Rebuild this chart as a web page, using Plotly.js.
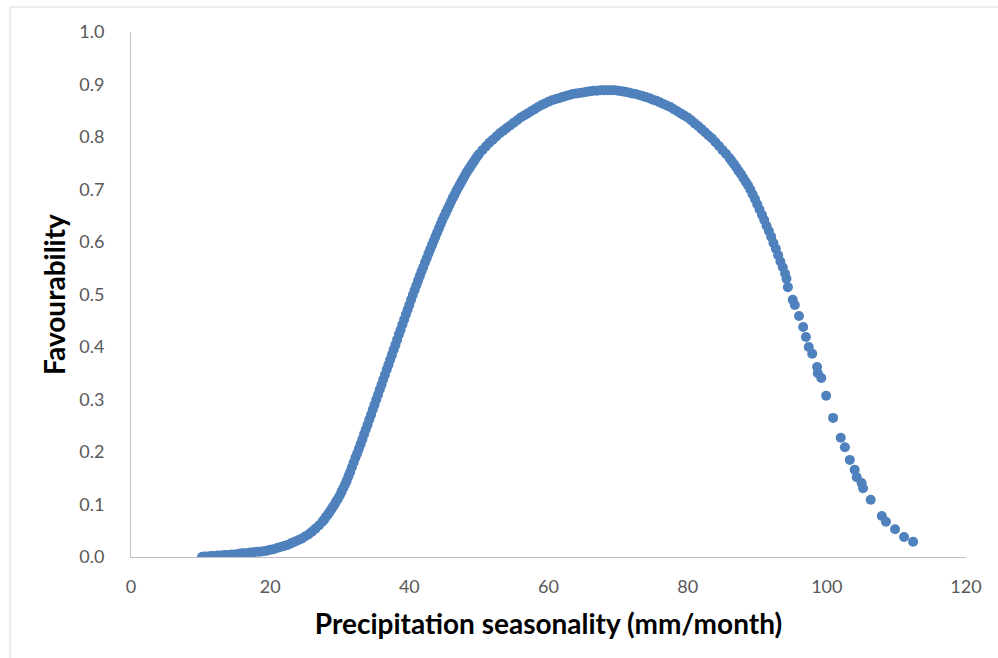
<!DOCTYPE html>
<html>
<head>
<meta charset="utf-8">
<script src="https://cdn.plot.ly/plotly-3.0.1.min.js"></script>
<style>
  html, body { margin: 0; padding: 0; background: #ffffff; }
  #chart { width: 998px; height: 658px; }
</style>
</head>
<body>
<div id="chart"></div>
<script>
// Precipitation seasonality (mm/month)
const seasonality = [
  10.2, 10.5, 11, 11.5, 12, 12.5, 13, 13.5, 14, 14.5, 15, 15.5, 16, 16.5, 17, 17.5, 18, 18.5, 19, 19.5,
  20, 20.5, 21, 21.5, 22, 22.5, 23, 23.5, 24, 24.5, 25, 25.5, 26, 26.5, 27, 27.5, 27.75,
  28, 28.25, 28.5, 28.75, 29, 29.25, 29.5, 29.75, 30, 30.25, 30.5, 30.75, 31, 31.25, 31.5, 31.75,
  32, 32.25, 32.5, 32.75, 33, 33.25, 33.5, 33.75, 34, 34.25, 34.5, 34.75, 35, 35.25, 35.5, 35.75,
  36, 36.25, 36.5, 36.75, 37, 37.25, 37.5, 37.75, 38, 38.25, 38.5, 38.75, 39, 39.25, 39.5, 39.75,
  40, 40.25, 40.5, 40.75, 41, 41.25, 41.5, 41.75, 42, 42.25, 42.5, 42.75, 43, 43.25, 43.5, 43.75,
  44, 44.25, 44.5, 44.75, 45, 45.25, 45.5, 45.75, 46, 46.25, 46.5, 46.75, 47, 47.25, 47.5, 47.75,
  48, 48.25, 48.5, 48.75, 49, 49.25, 49.5, 49.75, 50, 50.5, 51,
  51.5, 52, 52.5, 53, 53.5, 54, 54.5, 55, 55.5, 56, 56.5, 57, 57.5, 58, 58.5, 59, 59.5, 60, 60.5,
  61, 61.5, 62, 62.5, 63, 63.5, 64, 64.5, 65, 65.5, 66, 66.5, 67, 67.5, 68, 68.5, 69, 69.5, 70,
  70.5, 71, 71.5, 72, 72.5, 73, 73.5, 74, 74.5, 75, 75.5, 76, 76.5, 77, 77.5, 78, 78.5, 79, 79.5,
  80, 80.5, 81, 81.5, 82, 82.5, 83, 83.5, 84, 84.5, 85, 85.5, 86, 86.33, 86.67, 87, 87.33, 87.67,
  88, 88.33, 88.67, 89, 89.33, 89.67, 90, 90.33, 90.67, 91, 91.33, 91.67, 92, 92.33, 92.67, 93,
  93.33, 93.67, 94, 94.2, 94.4, 95.1, 95.4, 96.0, 96.6, 97.0, 97.4, 97.9, 98.6, 98.7, 99.2, 99.9,
  100.9, 102.0, 102.6, 103.3, 104.0, 104.3, 105.0, 105.2, 106.3, 107.9, 108.5, 109.8, 111.1, 112.4
];

// Favourability
const favourability = [
  0.000, 0.001, 0.001, 0.002, 0.002, 0.003, 0.003, 0.004, 0.004, 0.005, 0.005, 0.006, 0.007, 0.007, 0.008, 0.009, 0.010, 0.010, 0.011, 0.012,
  0.014, 0.015, 0.017, 0.019, 0.021, 0.023, 0.026, 0.029, 0.032, 0.035, 0.039, 0.043, 0.048, 0.054, 0.060, 0.067, 0.071,
  0.076, 0.080, 0.085, 0.090, 0.095, 0.100, 0.106, 0.111, 0.117, 0.124, 0.131, 0.138, 0.145, 0.154, 0.162, 0.171,
  0.180, 0.189, 0.197, 0.206, 0.215, 0.224, 0.234, 0.243, 0.252, 0.262, 0.271, 0.281, 0.290, 0.300, 0.309, 0.319,
  0.328, 0.338, 0.347, 0.357, 0.366, 0.376, 0.385, 0.395, 0.404, 0.414, 0.424, 0.433, 0.443, 0.452, 0.462, 0.471,
  0.480, 0.490, 0.499, 0.508, 0.517, 0.526, 0.535, 0.544, 0.552, 0.561, 0.569, 0.578, 0.586, 0.594, 0.602, 0.610,
  0.618, 0.626, 0.634, 0.642, 0.649, 0.656, 0.663, 0.670, 0.677, 0.684, 0.690, 0.697, 0.703, 0.709, 0.715, 0.721,
  0.727, 0.733, 0.738, 0.743, 0.748, 0.753, 0.758, 0.763, 0.767, 0.775, 0.782,
  0.789, 0.795, 0.801, 0.807, 0.812, 0.817, 0.822, 0.827, 0.832, 0.837, 0.841, 0.845, 0.849, 0.853, 0.857, 0.861, 0.864, 0.867, 0.870,
  0.872, 0.874, 0.876, 0.878, 0.880, 0.882, 0.883, 0.884, 0.885, 0.886, 0.887, 0.888, 0.888, 0.889, 0.889, 0.889, 0.889, 0.889, 0.888,
  0.887, 0.886, 0.885, 0.883, 0.882, 0.880, 0.878, 0.876, 0.874, 0.871, 0.869, 0.866, 0.863, 0.860, 0.857, 0.853, 0.849, 0.845, 0.841,
  0.837, 0.832, 0.826, 0.821, 0.815, 0.809, 0.803, 0.797, 0.790, 0.783, 0.775, 0.768, 0.760, 0.754, 0.748, 0.742, 0.735, 0.729,
  0.722, 0.715, 0.708, 0.700, 0.691, 0.682, 0.672, 0.662, 0.652, 0.642, 0.631, 0.621, 0.610, 0.598, 0.587, 0.575,
  0.563, 0.552, 0.540, 0.530, 0.514, 0.490, 0.480, 0.459, 0.438, 0.419, 0.400, 0.387, 0.362, 0.350, 0.341, 0.307,
  0.265, 0.227, 0.209, 0.185, 0.166, 0.152, 0.141, 0.131, 0.109, 0.078, 0.067, 0.053, 0.038, 0.029
];

const xTickVals = [0, 20, 40, 60, 80, 100, 120];
const yTickVals = [0, 0.1, 0.2, 0.3, 0.4, 0.5, 0.6, 0.7, 0.8, 0.9, 1.0];
const yTickText = ['0.0', '0.1', '0.2', '0.3', '0.4', '0.5', '0.6', '0.7', '0.8', '0.9', '1.0'];

const trace = {
  x: seasonality,
  y: favourability,
  type: 'scatter',
  mode: 'markers',
  marker: { color: '#4f81bd', size: 10, line: { width: 0 } },
  hoverinfo: 'x+y'
};

const layout = {
  width: 998,
  height: 658,
  margin: { l: 131, r: 32, t: 32, b: 101, pad: 0 },
  paper_bgcolor: '#ffffff',
  plot_bgcolor: '#ffffff',
  showlegend: false,
  font: { family: 'Lato, "Open Sans", sans-serif', color: '#595959' },
  xaxis: {
    range: [0, 120],
    tickvals: xTickVals,
    ticks: '',
    showgrid: false,
    zeroline: false,
    showline: true,
    linecolor: '#bfbfbf',
    linewidth: 1,
    tickfont: { size: 18, color: '#595959' },
    ticklabelstandoff: 13,
    title: { text: 'Precipitation seasonality (mm/month)', font: { size: 28, color: '#000000', family: 'Lato, sans-serif', weight: 'bold' }, standoff: 18 }
  },
  yaxis: {
    range: [0, 1],
    tickvals: yTickVals,
    ticktext: yTickText,
    ticks: '',
    showgrid: false,
    zeroline: false,
    showline: true,
    linecolor: '#bfbfbf',
    linewidth: 1,
    tickfont: { size: 18, color: '#595959' },
    ticklabelstandoff: 22,
    title: { text: 'Favourability', font: { size: 28, color: '#000000', family: 'Lato, sans-serif', weight: 'bold' }, standoff: 5 }
  },
  shapes: [
    { type: 'line', xref: 'paper', yref: 'paper', x0: -0.1449, x1: 1.04, y0: 1.0476, y1: 1.0476, line: { color: '#d9d9d9', width: 1 } },
    { type: 'line', xref: 'paper', yref: 'paper', x0: -0.1449, x1: -0.1449, y0: 1.0476, y1: -0.2, line: { color: '#d9d9d9', width: 1 } }
  ]
};

Plotly.newPlot('chart', [trace], layout, { displayModeBar: false, staticPlot: true });
</script>
</body>
</html>
